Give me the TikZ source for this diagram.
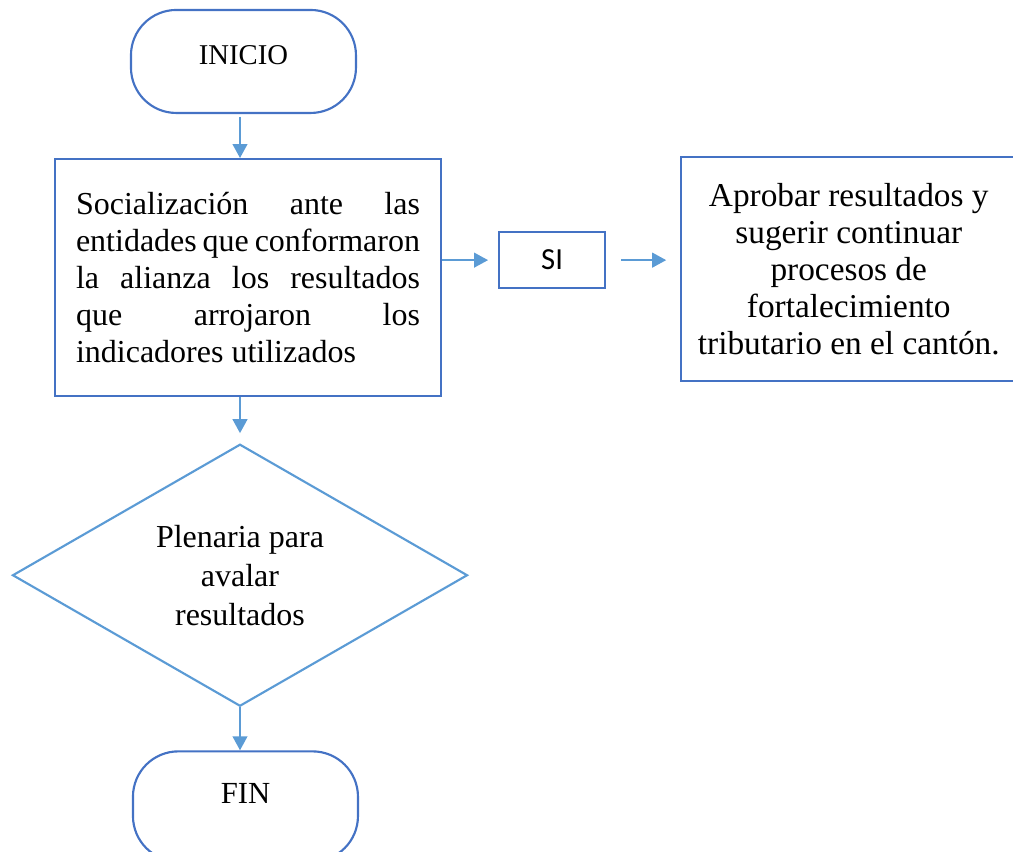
\documentclass[tikz,border=0pt]{standalone}
\usepackage{fontspec}
\setmainfont{Liberation Serif}
\newfontfamily\sifont{Carlito}
\usetikzlibrary{positioning,shapes.geometric,arrows.meta}
\definecolor{BoxLine}{HTML}{4472C4}
\definecolor{ArrowLine}{HTML}{5B9BD5}

\begin{document}
\begin{tikzpicture}[every node/.style={font=\fontsize{24}{27.6}\selectfont},
    terminal/.style={draw=BoxLine, line width=1.6pt, rounded corners=34pt, minimum width=168.75pt},
    procbox/.style={draw=BoxLine, line width=1.6pt, inner sep=0pt},
    flow/.style={-{Triangle[length=10.5pt,width=11pt]}, color=ArrowLine, line width=1.6pt}]
    \useasboundingbox (0,0) rectangle (759.75pt,-639pt);

    \node[terminal, minimum height=77.25pt, text depth=10pt, font=\fontsize{21.5}{26}\selectfont] (inicio) at (182.6pt,-46.1pt) {INICIO};
    \node[procbox, below=33pt of inicio, xshift=3.4pt, text width=258pt, inner xsep=15.75pt, align=justify, minimum height=177.75pt] (socializacion) {\tolerance=10000 Socialización ante las\linebreak entidades que conformaron\linebreak la alianza los resultados\linebreak que arrojaron los\linebreak indicadores utilizados};
    \node[procbox, right=42pt of socializacion, yshift=13.1pt, minimum width=79.5pt, minimum height=42pt, font=\sifont\fontsize{23}{27}\selectfont] (si) {SI};
    \node[procbox, right=55.5pt of si, yshift=-6.75pt, align=center, minimum width=251.25pt, minimum height=168pt, font=\fontsize{25}{27.6}\selectfont] (aprobar) {Aprobar resultados y\\sugerir continuar\\procesos de\\fortalecimiento\\tributario en el cantón.};

    \node[shape=diamond, draw=ArrowLine, line width=1.6pt, below=34.5pt of socializacion, xshift=-6pt, aspect=1.74, inner sep=0pt, align=center, minimum width=341.25pt, minimum height=196.5pt, font=\fontsize{24}{29.25}\selectfont] (plenaria) {Plenaria para\\avalar\\resultados};
    \node[terminal, below=32.25pt of plenaria, xshift=4.1pt, minimum height=82.5pt, text depth=20pt, font=\fontsize{23}{27}\selectfont] (fin) {FIN};

    \draw[flow, shorten <=2pt] (inicio.south -| plenaria.north) -- (socializacion.north -| plenaria.north);
    \draw[flow, shorten >=7.5pt] (socializacion.east |- si.west) -- (si.west);
    \draw[flow, shorten <=11.25pt, shorten >=10.5pt] (si.east) -- (si.east -| aprobar.west);
    \draw[flow, shorten >=7.5pt] (socializacion.south -| plenaria.north) -- (plenaria.north);
    \draw[flow] (plenaria.south) -- (fin.north -| plenaria.south);
  \end{tikzpicture}
\end{document}
